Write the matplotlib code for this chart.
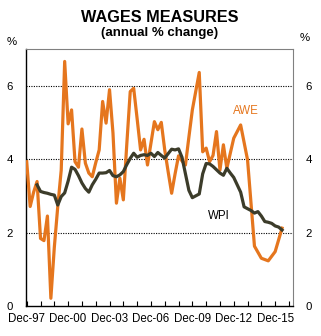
import matplotlib
matplotlib.use("Agg")
import matplotlib.pyplot as plt

plt.rcParams['font.family'] = ['Liberation Sans', 'DejaVu Sans']

# Quarter index: 0 = Dec-97, 1 = Mar-98, ...
awe_q = list(range(0, 59)) + [60, 62, 64, 66, 68, 70, 72, 74]
awe_vals = [3.93, 2.71, 3.10, 3.39, 1.84, 1.78, 2.45, 0.21, 1.60, 2.71,
            3.70, 6.66, 4.96, 5.34, 3.93, 3.78, 4.82, 3.89, 3.62, 3.52,
            3.90, 4.25, 5.57, 4.98, 5.89, 4.71, 2.80, 3.48, 2.89, 4.40,
            5.84, 5.93, 5.10, 4.25, 4.54, 3.84, 4.43, 5.02, 4.80, 5.00,
            4.25, 3.65, 3.07, 3.60, 4.09, 3.95, 3.84, 4.60, 5.34, 5.85,
            6.36, 4.20, 4.30, 3.93, 4.10, 4.75, 3.70, 4.39, 3.75,
            4.57, 4.93, 3.98, 1.63, 1.30, 1.23, 1.48, 2.12]

wpi_q = list(range(3, 75))
wpi_vals = [3.30, 3.12, 3.09, 3.07, 3.04, 3.02, 2.75, 2.98, 3.08, 3.40,
            3.78, 3.72, 3.55, 3.35, 3.20, 3.10, 3.30, 3.45, 3.62, 3.62,
            3.63, 3.69, 3.55, 3.52, 3.57, 3.66, 3.85, 4.02, 4.16, 4.05,
            4.10, 4.12, 4.10, 4.16, 4.07, 4.18, 4.10, 4.03, 4.15, 4.27,
            4.25, 4.28, 4.05, 3.60, 3.15, 2.95, 3.00, 3.05, 3.60, 3.88,
            3.87, 3.80, 3.71, 3.62, 3.56, 3.75, 3.62, 3.50, 3.30, 3.10,
            2.70, 2.65, 2.60, 2.53, 2.57, 2.45, 2.30, 2.28, 2.25, 2.18,
            2.15, 2.07]

xtick_labels = ['Dec-97', 'Dec-00', 'Dec-03', 'Dec-06', 'Dec-09', 'Dec-12', 'Dec-15']
yticks = [0, 2, 4, 6]

ORANGE = '#E5761E'
OLIVE = '#3C3C2A'

fig = plt.figure(figsize=(3.21, 3.36), dpi=100)
ax = fig.add_axes([0.080, 0.0893, 0.832, 0.765])

ax.plot(awe_q, awe_vals, color=ORANGE, lw=2.3, solid_joinstyle='round', zorder=3)
ax.plot(wpi_q, wpi_vals, color=OLIVE, lw=2.3, solid_joinstyle='round', zorder=4)

ax.set_xlim(-0.3, 77.1)
ax.set_ylim(0, 7)

for y in [2, 4, 6]:
    ax.axhline(y, color='black', lw=0.8, ls=(0, (1, 1.2)), zorder=1)

ax.set_yticks(yticks)
ax.set_yticklabels([str(v) for v in yticks])
ax.tick_params(axis='y', length=0, labelsize=8.2, pad=9, labelright=True, right=False)

ax.set_xticks(list(range(0, 78, 4)), minor=True)
ax.set_xticks(list(range(0, 73, 12)))
ax.set_xticklabels(xtick_labels)
ax.tick_params(axis='x', which='both', direction='in', length=3.5, width=0.8,
               color='black', labelsize=8.3, pad=5)

for side in ['top', 'right']:
    ax.spines[side].set_color('#808080')
    ax.spines[side].set_linewidth(0.8)
for side in ['left', 'bottom']:
    ax.spines[side].set_color('black')
    ax.spines[side].set_linewidth(1.0)

ax.text(63.6, 5.3, 'AWE', color=ORANGE, fontsize=8.3, ha='center', va='center')
ax.text(55.8, 2.45, 'WPI', color='black', fontsize=8.3, ha='center', va='center')

fig.text(12 / 321, 1 - 42 / 336, '%', fontsize=8.2, ha='center', va='center')
fig.text(305 / 321, 1 - 38 / 336, '%', fontsize=8.2, ha='center', va='center')

fig.text(160 / 321, 1 - 18 / 336, 'WAGES MEASURES', fontsize=11.7,
         fontweight='bold', ha='center', va='center')
fig.text(160 / 321, 1 - 33 / 336, '(annual % change)', fontsize=9.5,
         fontweight='bold', ha='center', va='center')

fig.savefig('out.png', dpi=100)
